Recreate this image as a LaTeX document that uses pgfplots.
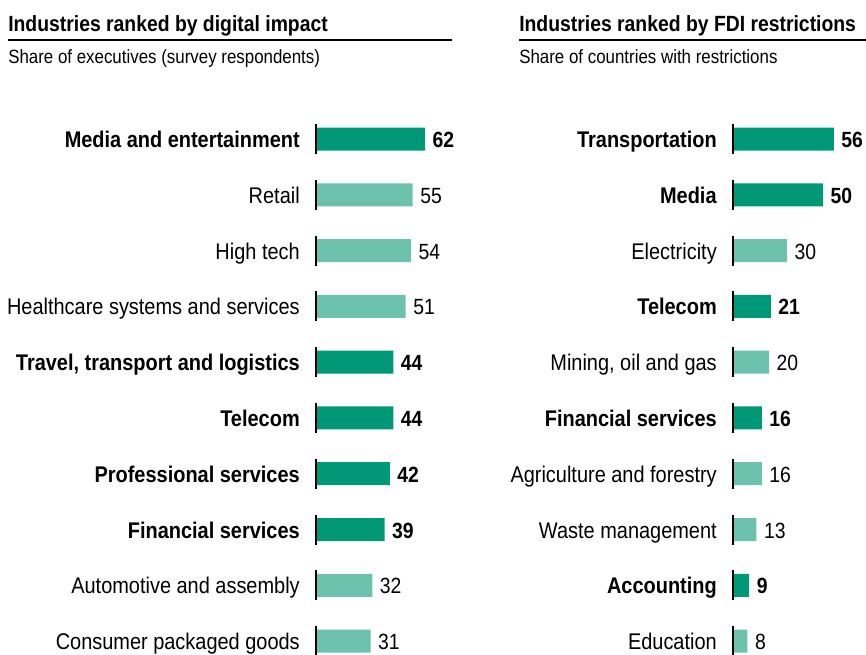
\documentclass[border=0pt]{standalone}
\usepackage{pgfplots}
\pgfplotsset{compat=1.18}
\usepackage{fontspec}
\setmainfont{Liberation Sans}[FakeStretch=0.88]
\definecolor{darkg}{RGB}{0,152,118}
\definecolor{lightg}{RGB}{108,194,172}

% 1px of the reference = 0.75pt
\newcommand{\pp}[2]{({#1*0.75pt},{-#2*0.75pt})}

\tikzset{valnode/.style={anchor=west, inner sep=0pt, xshift=5.5pt, yshift=-2.8pt, text=black,
    text height=0.74em, text depth=0.02em}}

\pgfplotsset{
  rankbars/.style={
    scale only axis,
    height={9.6*55.78*0.75pt},
    xmin=0, xmax=70,
    ymin=-0.3, ymax=9.3,
    y dir=reverse,
    axis line style={draw=none},
    tick style={draw=none},
    xtick=\empty,
    ytick={0,...,9},
    major tick length=0pt,
    clip=false,
    xbar, bar width=17.25pt, bar shift=0pt,
    /pgf/number format/assume math mode=true,
    yticklabel style={anchor=east, inner sep=0pt, xshift=-12pt, yshift=-2.8pt,
      text height=0.74em, text depth=0.02em, font=\fontsize{17}{19}\selectfont},
  },
  darkbar/.style={draw=none, fill=darkg, nodes near coords,
    every node near coord/.append style={valnode, font=\fontsize{16.5}{18}\selectfont\bfseries}},
  lightbar/.style={draw=none, fill=lightg, nodes near coords,
    every node near coord/.append style={valnode, font=\fontsize{16.5}{18}\selectfont}},
  stub/.style={only marks, mark=|, mark size=11.25pt,
    mark options={line width=0.9pt, draw=black}},
}

\begin{document}
\begin{tikzpicture}
\useasboundingbox \pp{0}{0} rectangle \pp{866}{654};

% headers
\node[anchor=base west, inner sep=0pt, font=\fontsize{16.5}{18}\selectfont\bfseries] at \pp{8}{31} {Industries ranked by digital impact};
\draw[line width=0.8pt] \pp{8}{40} -- \pp{452}{40};
\node[anchor=base west, inner sep=0pt, font=\fontsize{14.4}{16}\selectfont] at \pp{8}{63} {Share of executives (survey respondents)};

\node[anchor=base west, inner sep=0pt, font=\fontsize{16.5}{18}\selectfont\bfseries] at \pp{519}{31} {Industries ranked by FDI restrictions};
\draw[line width=0.8pt] \pp{519}{40} -- \pp{866}{40};
\node[anchor=base west, inner sep=0pt, font=\fontsize{14.4}{16}\selectfont] at \pp{519}{63} {Share of countries with restrictions};

% left panel
\begin{axis}[rankbars, width=92.3pt, at={(237pt,-91.725pt)}, anchor=north west,
  yticklabels={{\textbf{Media and entertainment}},Retail,High tech,Healthcare systems and services,
    {\textbf{Travel, transport and logistics}},\textbf{Telecom},\textbf{Professional services},
    \textbf{Financial services},Automotive and assembly,Consumer packaged goods}]
  \addplot[darkbar] coordinates {(62,0) (44,4) (44,5) (42,6) (39,7)};
  \addplot[lightbar] coordinates {(55,1) (54,2) (51,3) (32,8) (31,9)};
  \addplot[stub] coordinates {(0,0) (0,1) (0,2) (0,3) (0,4) (0,5) (0,6) (0,7) (0,8) (0,9)};
\end{axis}

% right panel
\begin{axis}[rankbars, width=94.5pt, at={(549.75pt,-91.725pt)}, anchor=north west,
  yticklabels={\textbf{Transportation},\textbf{Media},Electricity,\textbf{Telecom},
    {Mining, oil and gas},\textbf{Financial services},Agriculture and forestry,
    Waste management,\textbf{Accounting},Education}]
  \addplot[darkbar] coordinates {(56,0) (50,1) (21,3) (16,5) (9,8)};
  \addplot[lightbar] coordinates {(30,2) (20,4) (16,6) (13,7) (8,9)};
  \addplot[stub] coordinates {(0,0) (0,1) (0,2) (0,3) (0,4) (0,5) (0,6) (0,7) (0,8) (0,9)};
\end{axis}
\end{tikzpicture}
\end{document}
